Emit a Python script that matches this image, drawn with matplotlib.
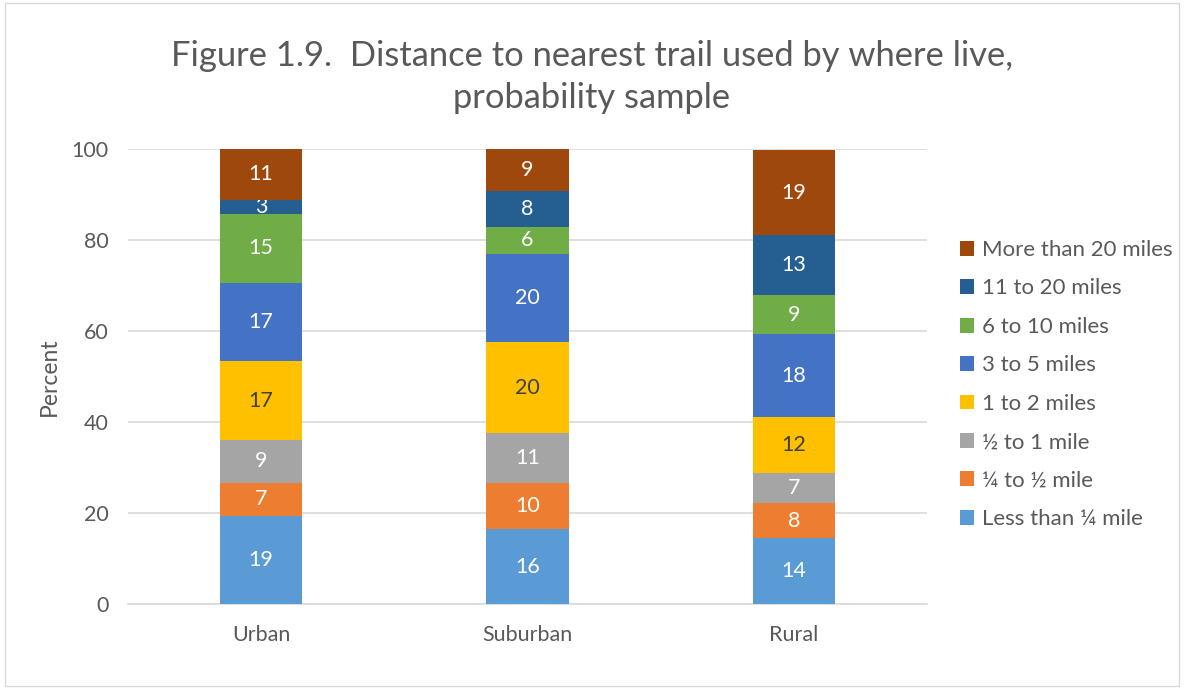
#!/usr/bin/env python3
import numpy as np
import matplotlib
matplotlib.use("Agg")
import matplotlib.pyplot as plt
from matplotlib.patches import Rectangle

plt.rcParams['font.family'] = ['Lato', 'DejaVu Sans']

OUTPUT_FNAME = "out.png"

places = ["Urban", "Suburban", "Rural"]
distances = ["Less than ¼ mile", "¼ to ½ mile", "½ to 1 mile", "1 to 2 miles",
             "3 to 5 miles", "6 to 10 miles", "11 to 20 miles", "More than 20 miles"]

# percent per distance band, ordered Urban / Suburban / Rural
less_quarter = [19.4, 16.4, 14.4]
quarter_half = [7.3, 10.1, 7.9]
half_one = [9.4, 11.1, 6.6]
one_two = [17.2, 19.9, 12.1]
three_five = [17.2, 19.5, 18.3]
six_ten = [15.3, 5.9, 8.6]
eleven_twenty = [3.0, 7.8, 13.1]
over_twenty = [11.2, 9.3, 18.8]

series = [less_quarter, quarter_half, half_one, one_two,
          three_five, six_ten, eleven_twenty, over_twenty]

colors = ['#5B9BD5', '#ED7D31', '#A5A5A5', '#FFC000',
          '#4472C4', '#70AD47', '#255E91', '#9E480E']
label_colors = ['white', 'white', 'white', '#404040',
                'white', 'white', 'white', 'white']


def plot():
    fig = plt.figure(figsize=(11.84, 6.89), dpi=100)
    ax = fig.add_axes([128 / 1184, 1 - 604 / 689, 799 / 1184, 455 / 689])

    ind = np.arange(len(places))
    bottom = np.zeros(len(places))
    handles = []
    for vals, name, color, lc in zip(series, distances, colors, label_colors):
        bars = ax.bar(ind, vals, 0.31, bottom=bottom, color=color, label=name,
                      zorder=3)
        ax.bar_label(bars, fmt='%.0f', label_type='center', color=lc,
                     fontsize=15.5)
        handles.append(bars)
        bottom = bottom + np.array(vals)

    ax.set_xlim(-0.5, 2.5)
    ax.set_ylim(0, 100)
    ax.set_yticks(np.arange(0, 101, 20))
    ax.set_xticks(ind, places)
    ax.tick_params(length=0, labelsize=15.5, colors='#595959', pad=15)
    ax.tick_params(axis='y', pad=14)
    ax.grid(axis='y', color='#D9D9D9', lw=1.2, zorder=0)
    for side in ['top', 'right', 'left']:
        ax.spines[side].set_visible(False)
    ax.spines['bottom'].set_color('#D9D9D9')
    ax.spines['bottom'].set_linewidth(1.2)

    ax.set_ylabel("Percent", fontsize=16.5, color='#595959', labelpad=8)

    fig.text(0.5, 1 - 77 / 689,
             "Figure 1.9.  Distance to nearest trail used by where live,\nprobability sample",
             ha='center', va='center', fontsize=24.8, color='#595959',
             linespacing=1.38)

    fig.legend(handles[::-1], distances[::-1], loc='upper left',
               bbox_to_anchor=(940 / 1184, 1 - 220 / 689), frameon=False,
               fontsize=16, labelcolor='#595959', handlelength=0.65,
               handleheight=0.65, handletextpad=0.35, labelspacing=0.83)

    fig.add_artist(Rectangle((0.004, 0.004), 0.992, 0.992, transform=fig.transFigure,
                             fill=False, edgecolor='#D9D9D9', lw=1))

    fig.savefig(OUTPUT_FNAME, dpi=100)


def main():
    plot()


if __name__ == "__main__":
    main()
